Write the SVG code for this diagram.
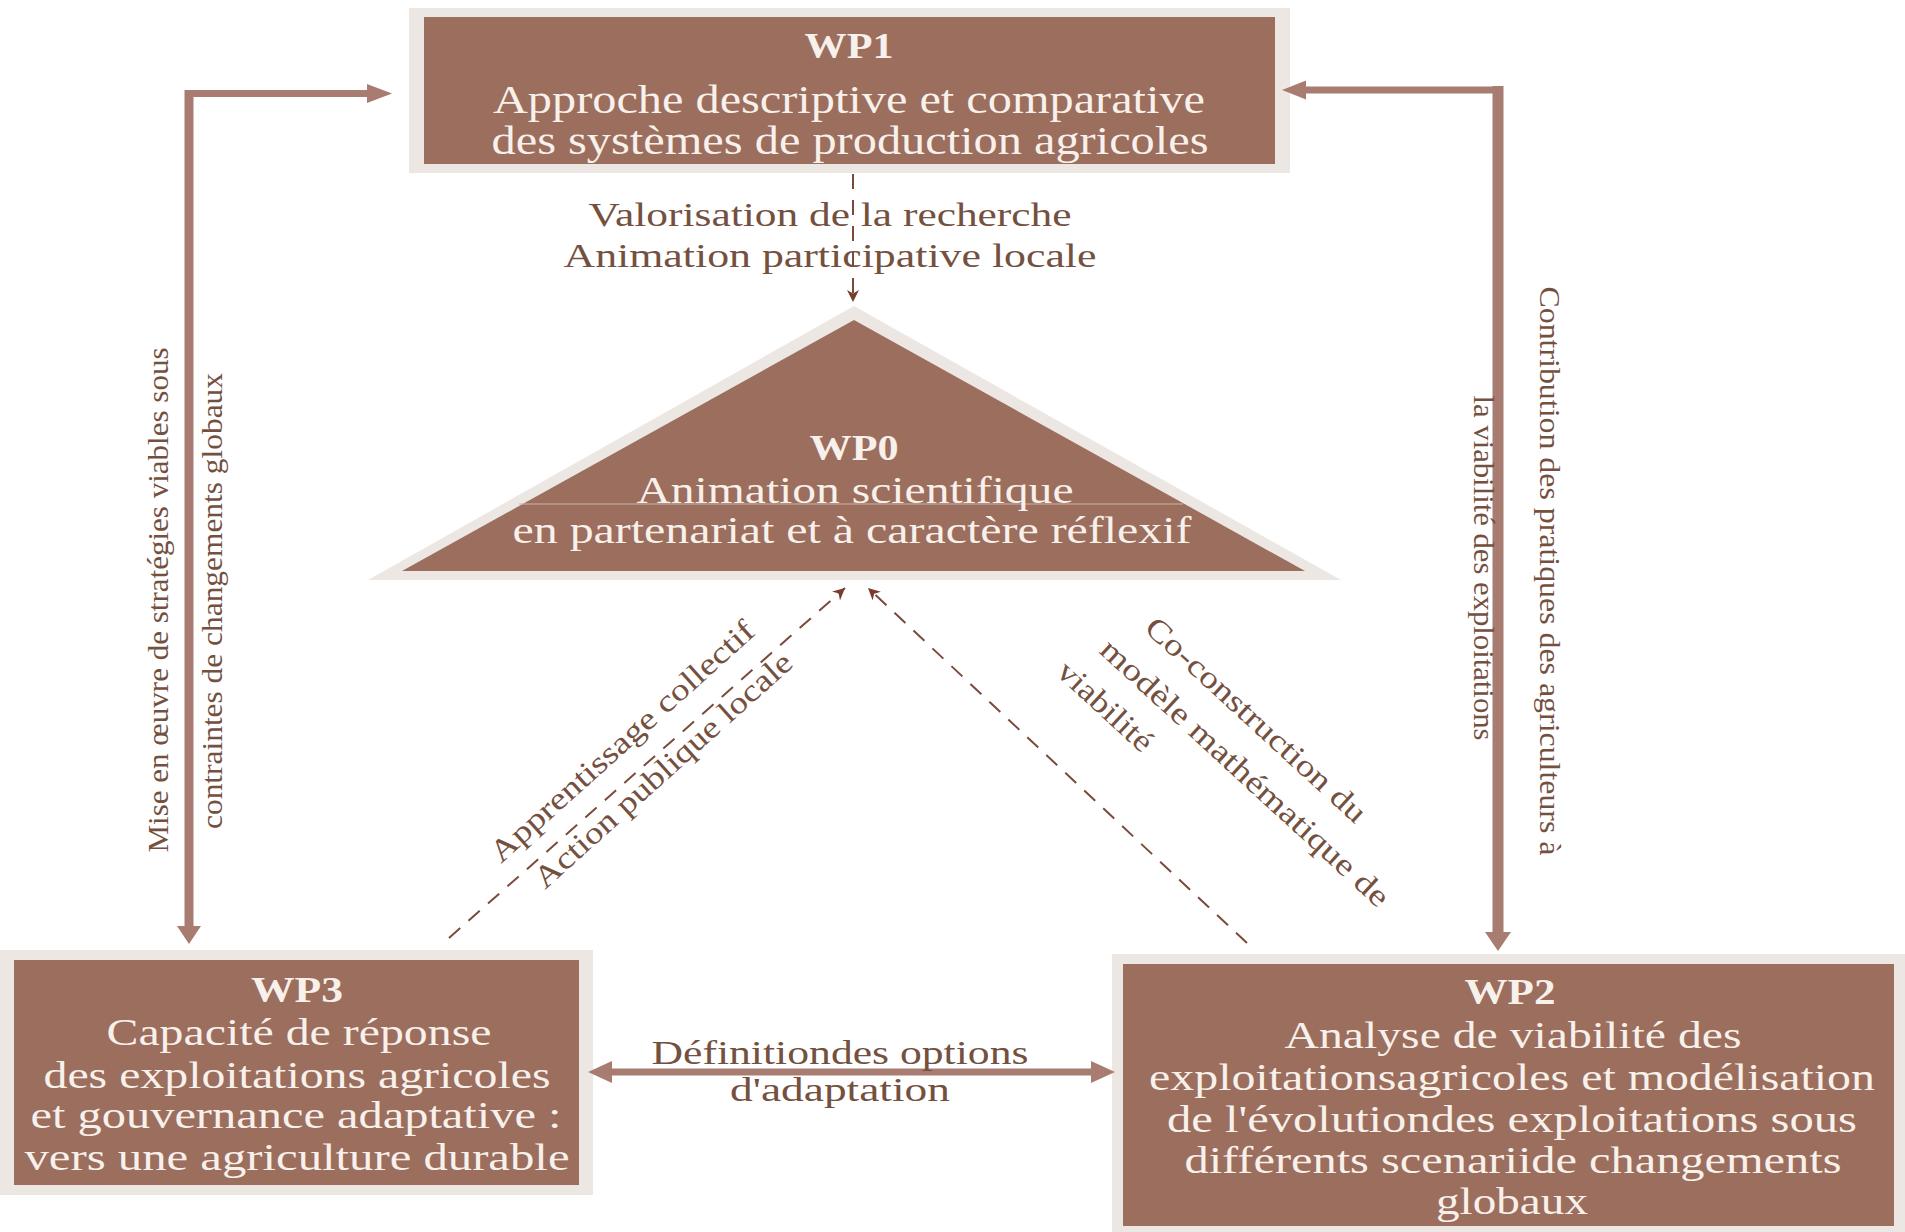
<svg xmlns="http://www.w3.org/2000/svg" width="1905" height="1232" viewBox="0 0 1905 1232">
<style>
.frame{fill:#ede7e4}
.box{fill:#9b6e5e}
.bt{font-family:"Liberation Serif","Times New Roman",serif;fill:#f8f0ea;text-anchor:middle}
.ttl{font-weight:bold;font-size:36px}
.lbl{font-family:"Liberation Serif","Times New Roman",serif;fill:#74503f}
.sol{stroke:#a87c70;fill:none}
.head{fill:#a87c70}
.dash{stroke:#7a4a3c;stroke-width:2;fill:none;stroke-dasharray:15 11}
</style>
<defs>
<marker id="dh" viewBox="0 0 10 10" refX="10" refY="5" markerWidth="14" markerHeight="12" markerUnits="userSpaceOnUse" orient="auto">
<path d="M0,0 L10,5 L0,10 L3,5 z" fill="#7a3c2c"/>
</marker>
</defs>
<rect width="1905" height="1232" fill="#ffffff"/>

<g id="wp1">
<rect class="frame" x="409" y="8" width="881" height="165"/>
<rect class="box" x="424" y="17" width="851" height="147"/>
<text class="bt ttl" x="849" y="58" textLength="89" lengthAdjust="spacingAndGlyphs">WP1</text>
<text class="bt" x="849" y="113" font-size="40" textLength="712" lengthAdjust="spacingAndGlyphs">Approche descriptive et comparative</text>
<text class="bt" x="850" y="154" font-size="40" textLength="717" lengthAdjust="spacingAndGlyphs">des systèmes de production agricoles</text>
</g>

<g id="wp0">
<polygon class="frame" points="854,306 368,580 1341,580"/>
<polygon class="box" points="854,320 402,571 1305,571"/>
<line x1="519" y1="504" x2="1183" y2="504" stroke="#cfb3a8" stroke-width="1.2"/>
<text class="bt ttl" x="854" y="460" textLength="89" lengthAdjust="spacingAndGlyphs">WP0</text>
<text class="bt" x="855" y="503" font-size="37" textLength="437" lengthAdjust="spacingAndGlyphs">Animation scientifique</text>
<text class="bt" x="852" y="543" font-size="37" textLength="679" lengthAdjust="spacingAndGlyphs">en partenariat et à caractère réflexif</text>
</g>

<g id="wp3">
<rect class="frame" x="0" y="950" width="593" height="245"/>
<rect class="box" x="14" y="960" width="565" height="225"/>
<text class="bt ttl" x="297" y="1002" textLength="92" lengthAdjust="spacingAndGlyphs">WP3</text>
<text class="bt" x="299" y="1045" font-size="38" textLength="385" lengthAdjust="spacingAndGlyphs">Capacité de réponse</text>
<text class="bt" x="297" y="1088" font-size="38" textLength="507" lengthAdjust="spacingAndGlyphs">des exploitations agricoles</text>
<text class="bt" x="296" y="1128" font-size="38" textLength="531" lengthAdjust="spacingAndGlyphs">et gouvernance adaptative :</text>
<text class="bt" x="297" y="1170" font-size="38" textLength="545" lengthAdjust="spacingAndGlyphs">vers une agriculture durable</text>
</g>

<g id="wp2">
<rect class="frame" x="1112" y="954" width="793" height="278"/>
<rect class="box" x="1123" y="964" width="771" height="262"/>
<text class="bt ttl" x="1510" y="1004" textLength="91" lengthAdjust="spacingAndGlyphs">WP2</text>
<text class="bt" x="1513" y="1048" font-size="38" textLength="457" lengthAdjust="spacingAndGlyphs">Analyse de viabilité des</text>
<text class="bt" x="1512" y="1090" font-size="38" textLength="726" lengthAdjust="spacingAndGlyphs">exploitationsagricoles et modélisation</text>
<text class="bt" x="1512" y="1132" font-size="38" textLength="690" lengthAdjust="spacingAndGlyphs">de l'évolutiondes exploitations sous</text>
<text class="bt" x="1513" y="1173" font-size="38" textLength="657" lengthAdjust="spacingAndGlyphs">différents scenariide changements</text>
<text class="bt" x="1512" y="1214" font-size="38" textLength="152" lengthAdjust="spacingAndGlyphs">globaux</text>
</g>

<g id="connectors">
<line class="sol" x1="189" y1="90" x2="189" y2="928" stroke-width="9"/>
<polygon class="head" points="177,926 201,926 189,944"/>
<line class="sol" x1="185" y1="93.5" x2="370" y2="93.5" stroke-width="7"/>
<polygon class="head" points="367,84 392,93.5 367,103"/>
<line class="sol" x1="1498" y1="86" x2="1498" y2="934" stroke-width="11"/>
<polygon class="head" points="1485,932 1511,932 1498,951"/>
<line class="sol" x1="1304" y1="90" x2="1503" y2="90" stroke-width="7"/>
<polygon class="head" points="1306,80.5 1282,90 1306,99.5"/>
<line class="sol" x1="608" y1="1072" x2="1095" y2="1072" stroke-width="7"/>
<polygon class="head" points="612,1061 588,1072 612,1083"/>
<polygon class="head" points="1091,1061 1115,1072 1091,1083"/>
<line class="dash" x1="853" y1="174" x2="853" y2="302" stroke-dasharray="11 9" marker-end="url(#dh)"/>
<line class="dash" x1="449" y1="938" x2="845" y2="588" marker-end="url(#dh)"/>
<line class="dash" x1="1247" y1="943" x2="868" y2="588" marker-end="url(#dh)"/>
</g>

<g id="labels">
<text class="lbl" x="830" y="226" font-size="34" text-anchor="middle" textLength="483" lengthAdjust="spacingAndGlyphs">Valorisation de la recherche</text>
<text class="lbl" x="830" y="267" font-size="34" text-anchor="middle" textLength="533" lengthAdjust="spacingAndGlyphs">Animation participative locale</text>
<text class="lbl" x="840" y="1064" font-size="34" text-anchor="middle" textLength="377" lengthAdjust="spacingAndGlyphs">Définitiondes options</text>
<text class="lbl" x="840" y="1101" font-size="34" text-anchor="middle" textLength="220" lengthAdjust="spacingAndGlyphs">d'adaptation</text>
<text class="lbl" font-size="30" text-anchor="middle" transform="translate(168,600) rotate(-90)" textLength="505" lengthAdjust="spacingAndGlyphs">Mise en œuvre de stratégies viables sous</text>
<text class="lbl" font-size="30" text-anchor="middle" transform="translate(222,601) rotate(-90)" textLength="456" lengthAdjust="spacingAndGlyphs">contraintes de changements globaux</text>
<text class="lbl" font-size="30" text-anchor="middle" transform="translate(1540,571) rotate(90)" textLength="569" lengthAdjust="spacingAndGlyphs">Contribution des pratiques des agriculteurs à</text>
<text class="lbl" font-size="30" text-anchor="middle" transform="translate(1474,568) rotate(90)" textLength="345" lengthAdjust="spacingAndGlyphs">la viabilité des exploitations</text>
<text class="lbl" font-size="31" transform="translate(501,864) rotate(-42)" textLength="344" lengthAdjust="spacingAndGlyphs">Apprentissage collectif</text>
<text class="lbl" font-size="31" transform="translate(545,890) rotate(-42)" textLength="336" lengthAdjust="spacingAndGlyphs">Action publique locale</text>
<text class="lbl" font-size="31" transform="translate(1143,630) rotate(42.5)" textLength="288" lengthAdjust="spacingAndGlyphs">Co-construction du</text>
<text class="lbl" font-size="31" transform="translate(1098,652) rotate(42.5)" textLength="380" lengthAdjust="spacingAndGlyphs">modèle mathématique de</text>
<text class="lbl" font-size="31" transform="translate(1055,674) rotate(42.5)" textLength="118" lengthAdjust="spacingAndGlyphs">viabilité</text>
</g>
</svg>
